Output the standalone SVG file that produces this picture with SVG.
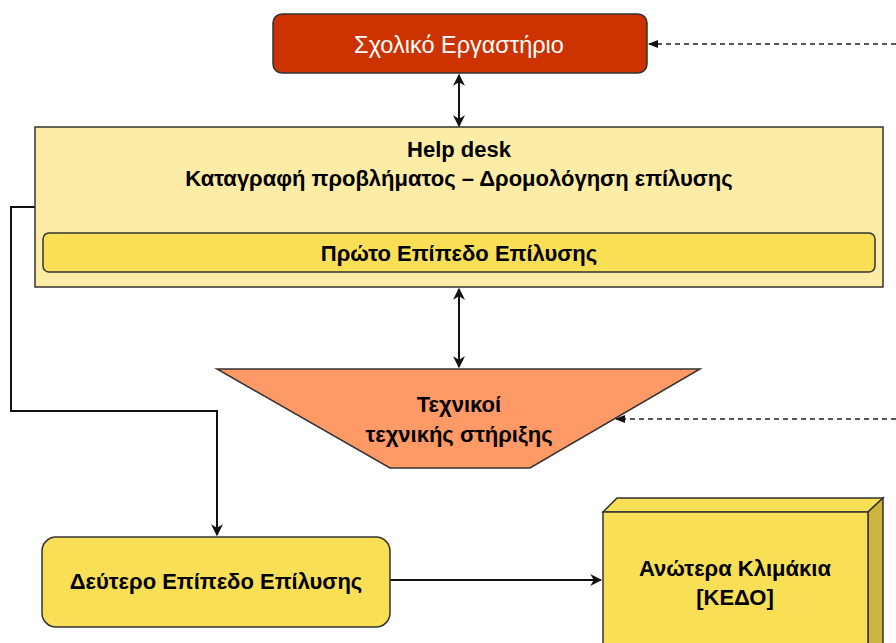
<svg xmlns="http://www.w3.org/2000/svg" width="896" height="643" viewBox="0 0 896 643">
<defs>
<style>
.t{font-family:"Liberation Sans",Arial,sans-serif;font-size:22px;font-weight:bold;fill:#000;text-anchor:middle}
.w{font-family:"Liberation Sans",Arial,sans-serif;font-size:23.5px;fill:#fff;text-anchor:middle}
.ln{fill:none;stroke:#111;stroke-width:2}
.dash{fill:none;stroke:#222;stroke-width:1.5;stroke-dasharray:5,4}
.box{stroke:#333;stroke-width:1.5}
</style>
<marker id="ah" viewBox="0 0 10 10" refX="9" refY="5" markerWidth="6" markerHeight="6" orient="auto-start-reverse" markerUnits="strokeWidth">
<path d="M0,0 L10,5 L0,10 L3,5 Z" fill="#111"/>
</marker>
<marker id="ahs" viewBox="0 0 10 10" refX="9" refY="5" markerWidth="7" markerHeight="7" orient="auto" markerUnits="strokeWidth">
<path d="M0,1 L10,5 L0,9 Z" fill="#111"/>
</marker>
</defs>
<g id="connectors">
<line class="ln" x1="459" y1="75" x2="459" y2="126" marker-start="url(#ah)" marker-end="url(#ah)"/>
<line class="ln" x1="459" y1="289" x2="459" y2="367" marker-start="url(#ah)" marker-end="url(#ah)"/>
<line class="dash" x1="896" y1="44" x2="649" y2="44" marker-end="url(#ahs)"/>
<line class="dash" x1="896" y1="419" x2="616" y2="419" marker-end="url(#ahs)"/>
<polyline class="ln" points="35,207 11,207 11,411 217,411 217,535" marker-end="url(#ah)"/>
<line class="ln" x1="390" y1="580" x2="601" y2="580" marker-end="url(#ah)"/>
</g>
<g id="school-lab">
<rect class="box" x="273" y="14" width="374" height="59" rx="9" fill="#cc3300"/>
<text class="w" x="459" y="53">Σχολικό Εργαστήριο</text>
</g>
<g id="help-desk">
<rect class="box" x="35" y="127" width="848" height="160" fill="#fdeca6"/>
<text class="t" x="459" y="157">Help desk</text>
<text class="t" x="459" y="186">Καταγραφή προβλήματος – Δρομολόγηση επίλυσης</text>
</g>
<g id="first-level">
<rect class="box" x="43" y="233" width="832" height="39" rx="6" fill="#f9df55"/>
<text class="t" x="459" y="261">Πρώτο Επίπεδο Επίλυσης</text>
</g>
<g id="technicians">
<polygon class="box" points="217,369 700,369 530,468 390,468" fill="#ff9966"/>
<text class="t" x="459" y="412">Τεχνικοί</text>
<text class="t" x="459" y="442">τεχνικής στήριξης</text>
</g>
<g id="second-level">
<rect class="box" x="42" y="537" width="348" height="90" rx="14" fill="#f9df55"/>
<text class="t" x="216" y="589">Δεύτερο Επίπεδο Επίλυσης</text>
</g>
<g id="kedo">
<polygon class="box" points="603,512 617,498 883,498 868,512" fill="#f9df55"/>
<polygon class="box" points="868,512 883,498 883,650 868,650" fill="#cdb340"/>
<rect class="box" x="603" y="512" width="265" height="140" fill="#f9df55"/>
<text class="t" x="735" y="576">Ανώτερα Κλιμάκια</text>
<text class="t" x="735" y="605">[ΚΕΔΟ]</text>
</g>
</svg>
